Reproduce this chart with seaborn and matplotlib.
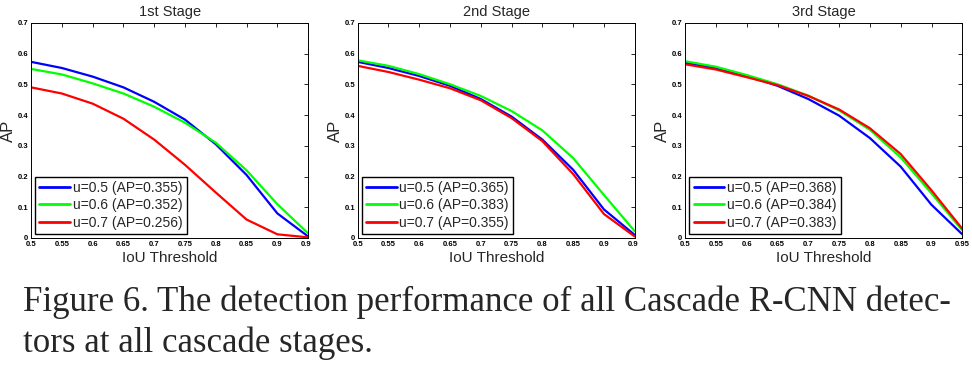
import matplotlib
matplotlib.use("Agg")
import matplotlib.pyplot as plt
import seaborn as sns
import pandas as pd
from matplotlib.transforms import Bbox, TransformedBbox

iou = [0.5, 0.55, 0.6, 0.65, 0.7, 0.75, 0.8, 0.85, 0.9, 0.95]
stages = ["1st Stage", "2nd Stage", "3rd Stage"]
series_names = ["u=0.5", "u=0.6", "u=0.7"]
ap_values = [["0.355", "0.352", "0.256"],
             ["0.365", "0.383", "0.355"],
             ["0.368", "0.384", "0.383"]]

s1_u05 = [0.573, 0.553, 0.525, 0.490, 0.443, 0.385, 0.305, 0.205, 0.080, 0.005]
s1_u06 = [0.550, 0.532, 0.503, 0.470, 0.427, 0.375, 0.310, 0.220, 0.110, 0.015]
s1_u07 = [0.490, 0.470, 0.437, 0.388, 0.320, 0.238, 0.148, 0.060, 0.012, 0.002]

s2_u05 = [0.573, 0.553, 0.527, 0.495, 0.452, 0.395, 0.320, 0.222, 0.093, 0.010]
s2_u06 = [0.578, 0.560, 0.533, 0.500, 0.462, 0.413, 0.350, 0.260, 0.140, 0.022]
s2_u07 = [0.560, 0.540, 0.515, 0.487, 0.448, 0.390, 0.315, 0.208, 0.078, 0.005]

s3_u05 = [0.570, 0.553, 0.527, 0.495, 0.452, 0.398, 0.325, 0.232, 0.108, 0.012]
s3_u06 = [0.575, 0.557, 0.530, 0.500, 0.463, 0.415, 0.352, 0.262, 0.145, 0.025]
s3_u07 = [0.565, 0.548, 0.523, 0.497, 0.462, 0.418, 0.357, 0.273, 0.155, 0.030]

stage_data = [[s1_u05, s1_u06, s1_u07],
              [s2_u05, s2_u06, s2_u07],
              [s3_u05, s3_u06, s3_u07]]

x_ticks = [0.5, 0.55, 0.6, 0.65, 0.7, 0.75, 0.8, 0.85, 0.9, 0.95]
y_ticks = [0, 0.1, 0.2, 0.3, 0.4, 0.5, 0.6, 0.7]
caption_lines = ["Figure 6. The detection performance of all Cascade R-CNN detec-",
                 "tors at all cascade stages."]

sns.set_style("white")
plt.rcParams["font.family"] = ["Liberation Sans", "DejaVu Sans"]

fig = plt.figure(figsize=(9.72, 3.71), dpi=100)
lefts = [0.032, 0.368, 0.705]
colors = ["#0000ff", "#00ff00", "#ff0000"]

for i, stage in enumerate(stages):
    ax = fig.add_axes([lefts[i], 0.3585, 0.285, 0.580])
    rows = []
    for j, name in enumerate(series_names):
        label = f"{name} (AP={ap_values[i][j]})"
        for x, y in zip(iou, stage_data[i][j]):
            rows.append({"IoU": x, "AP": y, "series": label})
    df = pd.DataFrame(rows)
    sns.lineplot(data=df, x="IoU", y="AP", hue="series", palette=colors,
                 linewidth=1.6, ax=ax, legend=True)
    ax.set_xlim(0.5, 0.95)
    ax.set_ylim(0, 0.7)
    ax.set_xticks(x_ticks)
    ax.set_xticklabels([f"{t:g}" for t in x_ticks])
    ax.set_yticks(y_ticks)
    ax.set_yticklabels([f"{t:g}" for t in y_ticks])
    ax.tick_params(direction="in", length=3, width=0.6, top=True, right=True,
                   labelsize=5.5, pad=2, colors="black")
    for lab in ax.get_xticklabels() + ax.get_yticklabels():
        lab.set_fontweight("bold")
    for sp in ax.spines.values():
        sp.set_visible(True)
        sp.set_color("black")
        sp.set_linewidth(0.7)
    ax.set_title(stage, fontsize=10.5, pad=5)
    ax.set_xlabel("IoU Threshold", fontsize=11, labelpad=2)
    ax.set_ylabel("AP", fontsize=12, labelpad=1)
    leg = ax.legend(loc="lower left", fontsize=10, frameon=True, fancybox=False,
                    edgecolor="black", framealpha=1, borderaxespad=0.3,
                    handlelength=2.2, handletextpad=0.2, borderpad=0.3,
                    labelspacing=0.25)
    leg.get_frame().set_linewidth(1.0)
    for line in leg.get_lines():
        line.set_linewidth(2.0)
    if i < 2:
        clip = TransformedBbox(Bbox([[-0.2, -1.0], [1.012, 1.0]]), ax.transAxes)
        for lab in ax.get_xticklabels():
            lab.set_clip_on(True)
            lab.set_clip_box(clip)

fig.text(23 / 972, 1 - 311 / 371, caption_lines[0], fontsize=25.1,
         family="Liberation Serif", va="baseline", ha="left")
fig.text(23 / 972, 1 - 352 / 371, caption_lines[1], fontsize=25.1,
         family="Liberation Serif", va="baseline", ha="left")

fig.savefig("out.png", dpi=100)
